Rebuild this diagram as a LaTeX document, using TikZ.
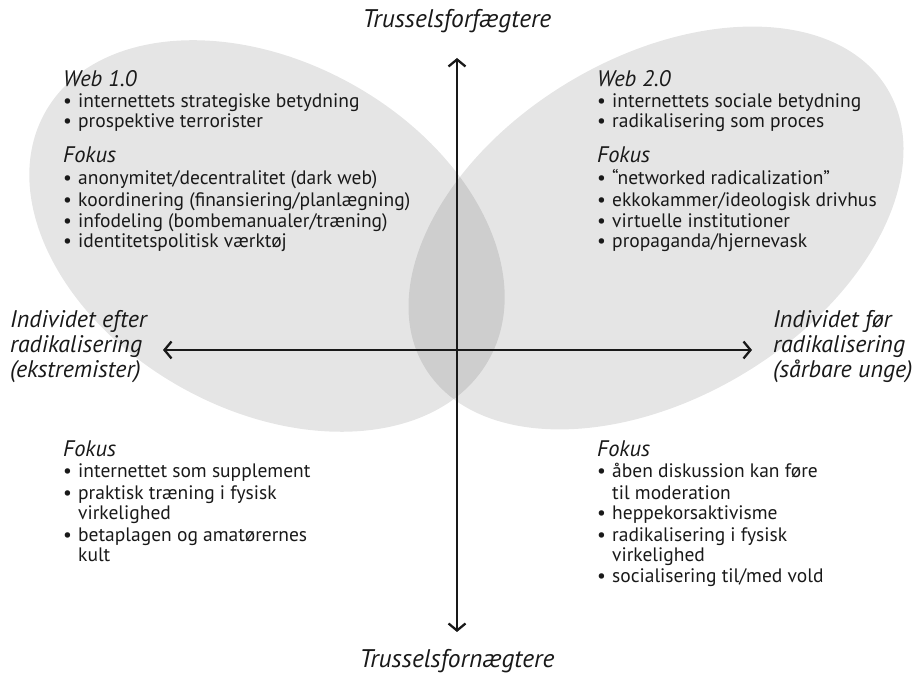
\documentclass[tikz,border=0pt]{standalone}
\usepackage{fontspec}
\setmainfont{PT Sans}
\usetikzlibrary{arrows.meta}
\newcommand{\myitem}[1]{\makebox[15pt][l]{•}#1}
\newcommand{\myindent}[1]{\hspace*{15pt}#1}
\tikzset{
  blob/.style={fill=black, fill opacity=0.1, draw=none},
  axisline/.style={line width=2.3pt, draw=black!90,
    {Straight Barb[length=7pt,width=17pt,line width=2.3pt]}-{Straight Barb[length=7pt,width=17pt,line width=2.3pt]}},
  body/.style={font=\fontsize{19.5}{21}\selectfont, anchor=base west, inner sep=0pt, text=black!90},
  head/.style={font=\fontsize{22.5}{21}\selectfont\itshape, anchor=base west, inner sep=0pt, text=black!90},
  axlbl/.style={font=\fontsize{24}{25}\selectfont\itshape, anchor=base west, inner sep=0pt, text=black!90},
  ttl/.style={font=\fontsize{25.5}{25}\selectfont\itshape, anchor=base, inner sep=0pt, text=black!90},
}
\begin{document}
\begin{tikzpicture}[x=1pt,y=1pt]
\useasboundingbox (0,0) rectangle (919,679);
% ellipses
\fill[blob, rotate around={-29:(267,443)}] (267,443) ellipse [x radius=254, y radius=174];
\fill[blob, rotate around={31:(656,451)}] (656,451) ellipse [x radius=270, y radius=170];
% axes
\coordinate (vtop) at (457,621);
\coordinate (vbot) at (457,47);
\coordinate (hleft) at (163,329);
\coordinate (hright) at (752,329);
\draw[axisline] (vbot) -- (vtop);
\draw[axisline] (hleft) -- (hright);
% axis labels
\node[ttl] (ttop) at (457,651) {Trusselsforfægtere};
\node[ttl] (tbot) at (457,11) {Trusselsfornægtere};
\node[axlbl] (l1) at (10,351) {Individet efter};
\node[axlbl] (l2) at (10,326) {radikalisering};
\node[axlbl] (l3) at (10,301) {(ekstremister)};
\node[axlbl] (r1) at (773,351) {Individet før};
\node[axlbl] (r2) at (773,326) {radikalisering};
\node[axlbl] (r3) at (773,301) {(sårbare unge)};
% top-left
\node[head] (tlh) at (63,592) {Web 1.0};
\node[body] (tl1) at (63,571) {\myitem{internettets strategiske betydning}};
\node[body] (tl2) at (63,551) {\myitem{prospektive terrorister}};
\node[head] (tlf) at (63,516) {Fokus};
\node[body] (tl3) at (63,494) {\myitem{anonymitet/decentralitet (dark web)}};
\node[body] (tl4) at (63,472) {\myitem{koordinering (finansiering/planlægning)}};
\node[body] (tl5) at (63,451) {\myitem{infodeling (bombemanualer/træning)}};
\node[body] (tl6) at (63,431) {\myitem{identitetspolitisk værktøj}};
% top-right
\node[head] (trh) at (597,592) {Web 2.0};
\node[body] (tr1) at (597,571) {\myitem{internettets sociale betydning}};
\node[body] (tr2) at (597,551) {\myitem{radikalisering som proces}};
\node[head] (trf) at (597,516) {Fokus};
\node[body] (tr3) at (597,494) {\myitem{“networked radicalization”}};
\node[body] (tr4) at (597,472) {\myitem{ekkokammer/ideologisk drivhus}};
\node[body] (tr5) at (597,451) {\myitem{virtuelle institutioner}};
\node[body] (tr6) at (597,431) {\myitem{propaganda/hjernevask}};
% bottom-left
\node[head] (blf) at (63,222) {Fokus};
\node[body] (bl1) at (63,201) {\myitem{internettet som supplement}};
\node[body] (bl2) at (63,179) {\myitem{praktisk træning i fysisk}};
\node[body] (bl3) at (63,159) {\myindent{virkelighed}};
\node[body] (bl4) at (63,137) {\myitem{betaplagen og amatørernes}};
\node[body] (bl5) at (63,117) {\myindent{kult}};
% bottom-right
\node[head] (brf) at (597,222) {Fokus};
\node[body] (br1) at (597,201) {\myitem{åben diskussion kan føre}};
\node[body] (br2) at (597,179) {\myindent{til moderation}};
\node[body] (br3) at (597,159) {\myitem{heppekorsaktivisme}};
\node[body] (br4) at (597,137) {\myitem{radikalisering i fysisk}};
\node[body] (br5) at (597,117) {\myindent{virkelighed}};
\node[body] (br6) at (597,96) {\myitem{socialisering til/med vold}};
\end{tikzpicture}
\end{document}
